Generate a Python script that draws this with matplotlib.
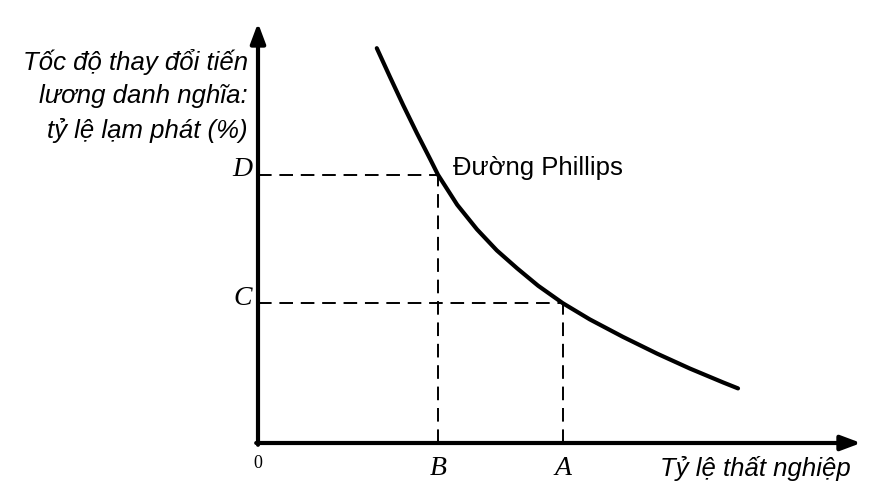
import matplotlib.pyplot as plt
import numpy as np

# Phillips curve points (unemployment, inflation) in arbitrary units
curve_x = [1.98, 2.20, 2.42, 2.65, 2.87, 3.00, 3.32, 3.65, 3.98, 4.32, 4.67,
           5.08, 5.53, 6.08, 6.65, 7.20, 7.75, 8.00]
curve_y = [6.58, 6.10, 5.63, 5.16, 4.73, 4.47, 3.97, 3.56, 3.21, 2.91, 2.62,
           2.33, 2.06, 1.77, 1.49, 1.24, 1.01, 0.91]

# reference points
point_x = [3.00, 5.08]   # B, A
point_y = [4.47, 2.33]   # D, C
x_names = ['B', 'A']
y_names = ['D', 'C']

y_title = 'Tốc độ thay đổi tiến\nlương danh nghĩa:\ntỷ lệ lạm phát (%)'
x_title = 'Tỷ lệ thất nghiệp'
curve_name = 'Đường Phillips'

fig = plt.figure(figsize=(8.91, 5), dpi=100)
ax = fig.add_axes([0, 0, 1, 1])
ax.set_xlim(-4.3, 10.55)
ax.set_ylim(-0.95, 7.383)
ax.axis('off')

# axes with arrows
arrow = dict(arrowstyle='-|>,head_length=1.2,head_width=0.45', lw=3, color='black',
             shrinkA=0, shrinkB=0)
ax.annotate('', xy=(0, 7.0), xytext=(0, -0.03), arrowprops=arrow)
ax.annotate('', xy=(10.05, 0), xytext=(-0.03, 0), arrowprops=arrow)

# curve
ax.plot(curve_x, curve_y, color='black', lw=3, solid_capstyle='round',
        solid_joinstyle='round')

# dashed guides
for px, py in zip(point_x, point_y):
    ax.plot([0, px], [py, py], color='black', lw=1.4, ls=(0, (7, 4)))
    ax.plot([px, px], [0, py], color='black', lw=1.4, ls=(0, (7, 4)))

serif = dict(family='Liberation Serif', style='italic', fontsize=20)
for px, name in zip(point_x, x_names):
    ax.text(px, -0.42, name, ha='center', va='center', **serif)
for py, name in zip(point_y, y_names):
    ax.text(-0.1, py + 0.08, name, ha='right', va='center', **serif)
ax.text(0, -0.35, '0', ha='center', va='center', family='Liberation Serif', fontsize=13)

sans = dict(family='Liberation Sans', fontsize=18.5)
ax.text(-0.17, 5.78, y_title, ha='right', va='center', style='italic',
        linespacing=1.5, **sans)
ax.text(6.7, -0.42, x_title, ha='left', va='center', style='italic', **sans)
ax.text(3.25, 4.58, curve_name, ha='left', va='center', **sans)

fig.savefig('out.png', dpi=100)
